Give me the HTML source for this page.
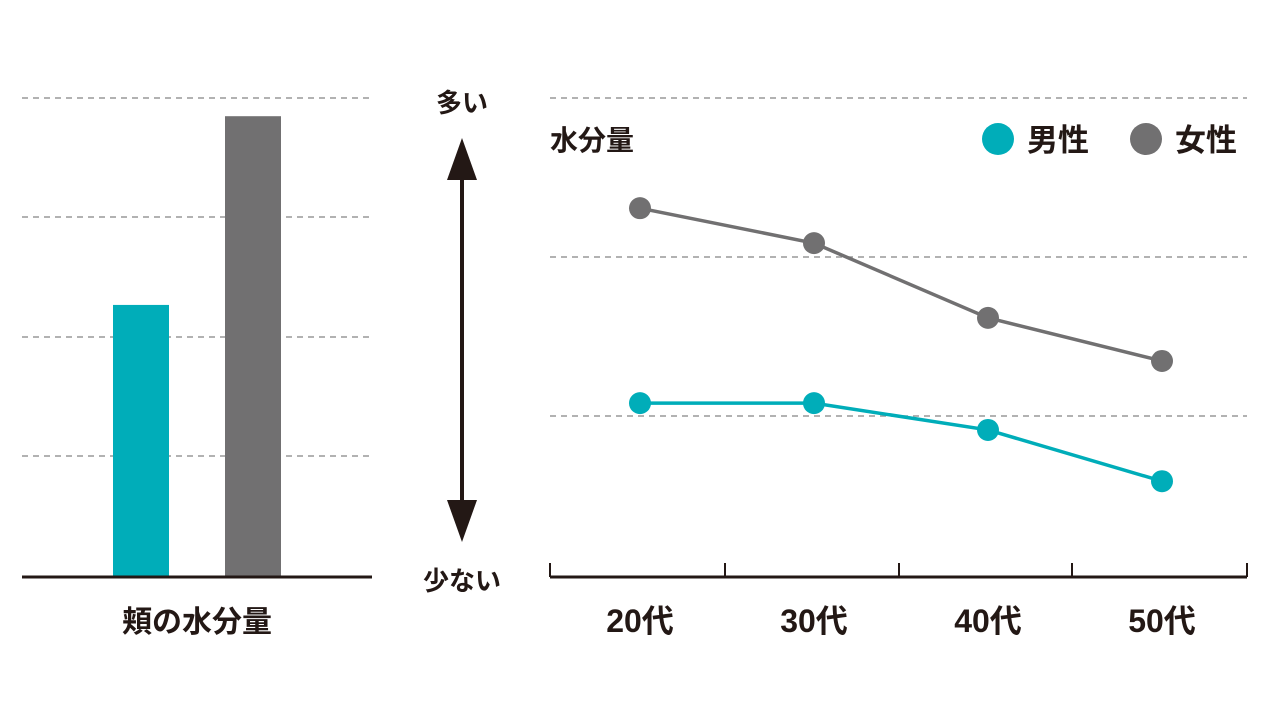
<!DOCTYPE html>
<html><head><meta charset="utf-8"><style>
html,body{margin:0;padding:0;background:#fff;width:1280px;height:720px;overflow:hidden}
text{font-family:"Liberation Sans","Noto Sans CJK JP",sans-serif;font-weight:bold;fill:#231815}
</style></head><body>
<svg id="c" width="1280" height="720"></svg>
<script>
const barCategories=['男性','女性'];
const barValues=[56.8,96.2];
const ageCategories=['20代','30代','40代','50代'];
const maleValues=[36.3,36.3,30.7,20.0];
const femaleValues=[77.0,69.7,54.1,45.1];
const colors={m:'#00adb9',f:'#717071'};
const NS='http://www.w3.org/2000/svg';
const svg=document.getElementById('c');
function el(t,a,p){const e=document.createElementNS(NS,t);for(const k in a)e.setAttribute(k,a[k]);(p||svg).appendChild(e);return e;}
function y(v){return 577-v*4.79;}
function xl(i){return 640+i*174;}
// left grid
[98,217,337,456].forEach(g=>{const l=el('line',{x1:22,x2:372,y1:g,y2:g,stroke:'#999','stroke-width':1.5,'stroke-dasharray':'6 5'});
});
const bx=[141,253];
barValues.forEach((v,i)=>{const r=el('rect',{x:bx[i]-28,y:y(v),width:56,height:577-y(v),fill:i?colors.f:colors.m});
});
let b=el('line',{x1:22,x2:372,y1:577,y2:577,stroke:'#231815','stroke-width':3});

let t=el('text',{x:197,y:632,'font-size':30,'text-anchor':'middle'});t.textContent='頬の水分量';

// arrow
let a=el('g',{});
el('line',{x1:462,x2:462,y1:170,y2:510,stroke:'#231815','stroke-width':4},a);
el('polygon',{points:'462,138 447,180 477,180',fill:'#231815'},a);
el('polygon',{points:'462,542 447,500 477,500',fill:'#231815'},a);
t=el('text',{x:462,y:112,'font-size':26,'text-anchor':'middle'});t.textContent='多い';

t=el('text',{x:462,y:590,'font-size':26,'text-anchor':'middle'});t.textContent='少ない';

// right grid
[98,257,416].forEach(g=>{const l=el('line',{x1:550,x2:1247,y1:g,y2:g,stroke:'#999','stroke-width':1.5,'stroke-dasharray':'6 5'});
});
b=el('line',{x1:550,x2:1247,y1:577,y2:577,stroke:'#231815','stroke-width':3});

[550,725,899,1072,1247].forEach(x=>{const l=el('line',{x1:x,x2:x,y1:563,y2:577,stroke:'#231815','stroke-width':2});
});
ageCategories.forEach((c,i)=>{const t=el('text',{x:xl(i),y:632,'font-size':32,'text-anchor':'middle'});t.textContent=c;
});
t=el('text',{x:550,y:150,'font-size':28});t.textContent='水分量';

function series(vals,col,name){
 const p=el('polyline',{points:vals.map((v,i)=>xl(i)+','+y(v)).join(' '),fill:'none',stroke:col,'stroke-width':3.5});
 
 vals.forEach((v,i)=>{const c=el('circle',{cx:xl(i),cy:y(v),r:11,fill:col});
 });
}
series(femaleValues,colors.f,'female');
series(maleValues,colors.m,'male');
// legend
let lg=el('g',{});
el('circle',{cx:998,cy:139,r:16,fill:colors.m},lg);
t=el('text',{x:1027,y:151,'font-size':31},lg);t.textContent='男性';
lg=el('g',{});
el('circle',{cx:1146,cy:139,r:16,fill:colors.f},lg);
t=el('text',{x:1175,y:151,'font-size':31},lg);t.textContent='女性';
</script>
</body></html>
